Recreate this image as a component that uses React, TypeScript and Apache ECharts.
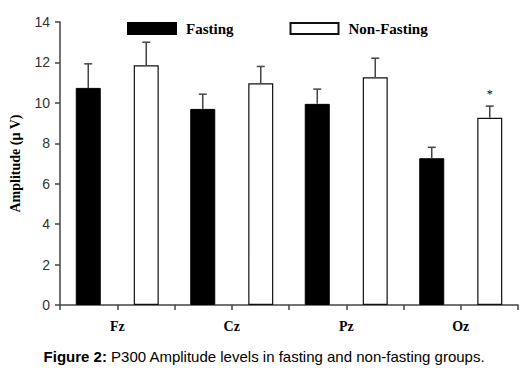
import React, { useEffect, useRef } from "react";
import * as echarts from "echarts";

const categories = ["Fz", "Cz", "Pz", "Oz"];
const fastingMean = [10.74, 9.7, 9.95, 7.26];
const fastingSE = [1.19, 0.73, 0.73, 0.54];
const nonFastingMean = [11.86, 10.97, 11.27, 9.26];
const nonFastingSE = [1.14, 0.83, 0.94, 0.58];
const significance = ["", "", "", "*"];
const yTicks = { min: 0, max: 14, interval: 2 };

const BAR_W = 25;
const BAR_GAP = 33;

const serif = "'Liberation Serif', 'Times New Roman', serif";
const sans = "'Liberation Sans', Arial, sans-serif";

export default function App() {
  const ref = useRef<HTMLDivElement>(null);
  useEffect(() => {
    if (!ref.current) return;
    const chart = echarts.init(ref.current, null, { renderer: "svg" });
    const offset = (BAR_W + BAR_GAP) / 2;
    const errSeries = (means: number[], se: number[], side: number, sig: string[] | null) => ({
      type: "custom",
      xAxisIndex: 0,
      yAxisIndex: 0,
      silent: true,
      z: 5,
      data: means.map((m, i) => [i, m, m + se[i]]),
      renderItem: (params: any, api: any) => {
        const i = api.value(0);
        const base = api.coord([i, api.value(1)]);
        const top = api.coord([i, api.value(2)]);
        const x = base[0] + side * offset;
        const children: any[] = [
          { type: "line", shape: { x1: x, y1: base[1], x2: x, y2: top[1] }, style: { stroke: "#444", lineWidth: 1.5 } },
          { type: "line", shape: { x1: x - 4, y1: top[1], x2: x + 4, y2: top[1] }, style: { stroke: "#444", lineWidth: 1.5 } },
        ];
        const s = sig ? sig[params.dataIndex] : "";
        if (s) {
          children.push({
            type: "text",
            x: x,
            y: top[1] - 6,
            style: { text: s, fill: "#000", font: `12px ${serif}`, textAlign: "center", textVerticalAlign: "bottom" },
          });
        }
        return { type: "group", children };
      },
    });
    chart.setOption({
      animation: false,
      backgroundColor: "#fff",
      grid: { left: 57, right: 11, top: 22, bottom: 70 },
      legend: {
        top: 16,
        left: 122,
        icon: "rect",
        itemWidth: 48,
        itemHeight: 11,
        itemGap: 56,
        textStyle: { fontFamily: serif, fontWeight: "bold", fontSize: 15, color: "#000", padding: [0, 0, 0, 5] },
        data: ["Fasting", "Non-Fasting"],
      },
      xAxis: [
        {
          type: "category",
          data: categories,
          position: "bottom",
          axisLine: { show: false },
          axisTick: { show: false },
          axisLabel: { fontFamily: serif, fontWeight: "bold", fontSize: 14, color: "#000", margin: 14 },
        },
        {
          type: "category",
          data: categories.flatMap((c) => [c + "-1", c + "-2"]),
          position: "bottom",
          axisLine: { show: true, lineStyle: { color: "#444", width: 1.5 } },
          axisTick: { show: true, length: 5, interval: 0, lineStyle: { color: "#444", width: 1.5 } },
          axisLabel: { show: false },
        },
      ],
      yAxis: {
        type: "value",
        min: yTicks.min,
        max: yTicks.max,
        interval: yTicks.interval,
        name: "Amplitude (µ V)",
        nameLocation: "middle",
        nameGap: 38,
        nameTextStyle: { fontFamily: serif, fontWeight: "bold", fontSize: 14, color: "#000" },
        axisLine: { show: true, lineStyle: { color: "#444", width: 1.5 } },
        axisTick: { show: true, length: 5, lineStyle: { color: "#444", width: 1.5 } },
        axisLabel: { fontFamily: sans, fontSize: 14, color: "#333", margin: 10 },
        splitLine: { show: false },
      },
      series: [
        {
          name: "Fasting",
          type: "bar",
          xAxisIndex: 0,
          data: fastingMean,
          barWidth: BAR_W,
          barGap: `${(BAR_GAP / BAR_W) * 100}%`,
          itemStyle: { color: "#000", borderColor: "#000", borderWidth: 1 },
        },
        {
          name: "Non-Fasting",
          type: "bar",
          xAxisIndex: 0,
          data: nonFastingMean,
          barWidth: BAR_W,
          barGap: `${(BAR_GAP / BAR_W) * 100}%`,
          itemStyle: { color: "#fff", borderColor: "#111", borderWidth: 1.2 },
        },
        errSeries(fastingMean, fastingSE, -1, null),
        errSeries(nonFastingMean, nonFastingSE, 1, significance),
      ],
      graphic: [
        {
          type: "text",
          left: "center",
          top: 349,
          style: {
            text: "{b|Figure 2:} P300 Amplitude levels in fasting and non-fasting groups.",
            font: `15px ${sans}`,
            fill: "#000",
            rich: {
              b: { fontFamily: sans, fontWeight: "bold", fontSize: 15, fill: "#000" },
            },
          },
        },
      ],
    });
    return () => chart.dispose();
  }, []);
  return <div ref={ref} style={{ width: 529, height: 375, position: "absolute", left: 0, top: 0 }} />;
}
